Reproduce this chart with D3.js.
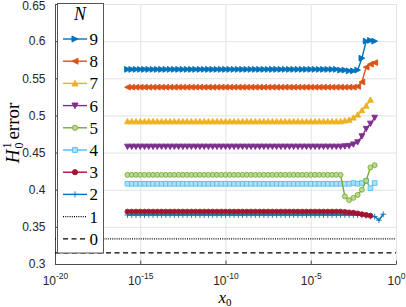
<!DOCTYPE html>
<html><head><meta charset="utf-8">
<script src="https://cdn.jsdelivr.net/npm/d3@7"></script>
<style>body{margin:0;background:#fff}svg{display:block}</style>
</head><body><svg id="c" width="406" height="307"></svg>
<script>
// x0 exponents (x0 = 10^e)
const xExp = [-15.75,-15.5,-15.25,-15,-14.75,-14.5,-14.25,-14,-13.75,-13.5,
-13.25,-13,-12.75,-12.5,-12.25,-12,-11.75,-11.5,-11.25,-11,
-10.75,-10.5,-10.25,-10,-9.75,-9.5,-9.25,-9,-8.75,-8.5,
-8.25,-8,-7.75,-7.5,-7.25,-7,-6.75,-6.5,-6.25,-6,
-5.75,-5.5,-5.25,-5,-4.75,-4.5,-4.25,-4,-3.75,-3.5,
-3.25,-3,-2.75,-2.5,-2.25,-2,-1.75,-1.5,-1.25,-1,-0.75];

const s9 = [0.562,0.562,0.562,0.562,0.562,0.562,0.562,0.562,0.562,0.562,
0.562,0.562,0.562,0.562,0.562,0.562,0.562,0.562,0.562,0.562,
0.562,0.562,0.562,0.562,0.562,0.562,0.562,0.562,0.562,0.562,
0.562,0.562,0.562,0.562,0.562,0.562,0.562,0.562,0.562,0.562,
0.562,0.562,0.562,0.562,0.562,0.562,0.562,0.562,0.562,0.562,
0.561,0.561,0.560,0.560,0.561,0.577,0.600,0.601,0.600,null,null];

const s8 = [0.538,0.538,0.538,0.538,0.538,0.538,0.538,0.538,0.538,0.538,
0.538,0.538,0.538,0.538,0.538,0.538,0.538,0.538,0.538,0.538,
0.538,0.538,0.538,0.538,0.538,0.538,0.538,0.538,0.538,0.538,
0.538,0.538,0.538,0.538,0.538,0.538,0.538,0.538,0.538,0.538,
0.538,0.538,0.538,0.538,0.538,0.538,0.538,0.538,0.538,0.538,
0.538,0.538,0.538,0.538,0.539,0.545,0.565,0.569,0.571,null,null];

const s7 = [0.492,0.492,0.492,0.492,0.492,0.492,0.492,0.492,0.492,0.492,
0.492,0.492,0.492,0.492,0.492,0.492,0.492,0.492,0.492,0.492,
0.492,0.492,0.492,0.492,0.492,0.492,0.492,0.492,0.492,0.492,
0.492,0.492,0.492,0.492,0.492,0.492,0.492,0.492,0.492,0.492,
0.492,0.492,0.492,0.492,0.492,0.492,0.492,0.492,0.492,0.492,
0.492,0.493,0.494,0.497,0.501,0.507,0.513,0.521,null,null,null];

const s6 = [0.458,0.458,0.458,0.458,0.458,0.458,0.458,0.458,0.458,0.458,
0.458,0.458,0.458,0.458,0.458,0.458,0.458,0.458,0.458,0.458,
0.458,0.458,0.458,0.458,0.458,0.458,0.458,0.458,0.458,0.458,
0.458,0.458,0.458,0.458,0.458,0.458,0.458,0.458,0.458,0.458,
0.458,0.458,0.458,0.458,0.458,0.458,0.458,0.458,0.458,0.458,
0.458,0.4585,0.459,0.461,0.464,0.472,0.482,0.489,0.497,null,null];

const s5 = [0.420,0.420,0.420,0.420,0.420,0.420,0.420,0.420,0.420,0.420,
0.420,0.420,0.420,0.420,0.420,0.420,0.420,0.420,0.420,0.420,
0.420,0.420,0.420,0.420,0.420,0.420,0.420,0.420,0.420,0.420,
0.420,0.420,0.420,0.420,0.420,0.420,0.420,0.420,0.420,0.420,
0.420,0.420,0.420,0.420,0.420,0.420,0.420,0.420,0.420,0.420,
0.420,0.391,0.386,0.389,0.393,0.400,0.412,0.430,0.433,null,null];

const s4 = [0.408,0.408,0.408,0.408,0.408,0.408,0.408,0.408,0.408,0.408,
0.408,0.408,0.408,0.408,0.408,0.408,0.408,0.408,0.408,0.408,
0.408,0.408,0.408,0.408,0.408,0.408,0.408,0.408,0.408,0.408,
0.408,0.408,0.408,0.408,0.408,0.408,0.408,0.408,0.408,0.408,
0.408,0.408,0.408,0.408,0.408,0.408,0.408,0.408,0.408,0.408,
0.408,0.408,0.408,0.409,0.408,0.409,0.412,0.402,0.409,null,null];

const s3 = [0.3705,0.3705,0.3705,0.3705,0.3705,0.3705,0.3705,0.3705,0.3705,0.3705,
0.3705,0.3705,0.3705,0.3705,0.3705,0.3705,0.3705,0.3705,0.3705,0.3705,
0.3705,0.3705,0.3705,0.3705,0.3705,0.3705,0.3705,0.3705,0.3705,0.3705,
0.3705,0.3705,0.3705,0.3705,0.3705,0.3705,0.3705,0.3705,0.3705,0.3705,
0.3705,0.3705,0.3705,0.3705,0.3705,0.3705,0.3705,0.3705,0.3705,0.3705,
0.3705,0.370,0.3695,0.369,0.368,0.367,0.366,0.365,null,null,null];

const s2 = [0.366,0.366,0.366,0.366,0.366,0.366,0.366,0.366,0.366,0.366,
0.366,0.366,0.366,0.366,0.366,0.366,0.366,0.366,0.366,0.366,
0.366,0.366,0.366,0.366,0.366,0.366,0.366,0.366,0.366,0.366,
0.366,0.366,0.366,0.366,0.366,0.366,0.366,0.366,0.366,0.366,
0.366,0.366,0.366,0.366,0.366,0.366,0.366,0.366,0.366,0.366,
0.366,0.366,0.366,0.366,0.366,0.3655,0.365,0.364,0.364,0.359,0.367];

// N = 1 and N = 0: constant error levels across the full x range
const flatExp = [-20, 0];
const s1 = [0.3337, 0.3337];
const s0 = [0.315, 0.315];

const legendLabels = ["9","8","7","6","5","4","3","2","1","0"];
const xTickExp = [-20,-15,-10,-5,0];
const yTickVals = [0.3,0.35,0.4,0.45,0.5,0.55,0.6,0.65];
const yTickLabels = ["0.3","0.35","0.4","0.45","0.5","0.55","0.6","0.65"];

const markerSeries = [
  {n:"9", vals:s9, color:"#0072BD", fill:"#0072BD", marker:">"},
  {n:"8", vals:s8, color:"#D95319", fill:"#D95319", marker:"<"},
  {n:"7", vals:s7, color:"#EDB120", fill:"#EDB120", marker:"^"},
  {n:"6", vals:s6, color:"#7E2F8E", fill:"#7E2F8E", marker:"v"},
  {n:"5", vals:s5, color:"#77AC30", fill:"#bcd994", marker:"o"},
  {n:"4", vals:s4, color:"#4DBEEE", fill:"#ace1f7", marker:"s"},
  {n:"3", vals:s3, color:"#A2142F", fill:"#A2142F", marker:"o"},
  {n:"2", vals:s2, color:"#0072BD", fill:"none", marker:"+"}
];
const flatSeries = [
  {n:"1", vals:s1, dash:"1,1.2"},
  {n:"0", vals:s0, dash:"5,3.5"}
];

const svg = d3.select("#c");
const L = 55, R = 396, T = 4, B = 264;
const x = d3.scaleLog().domain([1e-20, 1]).range([L, R]);
const y = d3.scaleLinear().domain([0.3, 0.65]).range([B, T]);
const xTickVals = xTickExp.map(e => Math.pow(10, e));
const sansFont = "'Liberation Sans', Arial, Helvetica, sans-serif";
const serifFont = "'Liberation Serif', 'Times New Roman', serif";

// grid
svg.append("g").attr("transform", `translate(0,${B})`)
  .call(d3.axisBottom(x).tickValues(xTickVals).tickSize(-(B - T)).tickFormat(""))
  .call(g => { g.select(".domain").remove(); g.selectAll("line").attr("stroke", "#e3e3e3"); });
svg.append("g").attr("transform", `translate(${L},0)`)
  .call(d3.axisLeft(y).tickValues(yTickVals).tickSize(-(R - L)).tickFormat(""))
  .call(g => { g.select(".domain").remove(); g.selectAll("line").attr("stroke", "#e3e3e3"); });

// axes
const xAx = svg.append("g").attr("transform", `translate(0,${B})`)
  .call(d3.axisBottom(x).tickValues(xTickVals).tickSizeInner(-3.5).tickSizeOuter(0).tickFormat(""));
xAx.select(".domain").attr("stroke", "#4d4d4d");
xAx.selectAll(".tick line").attr("stroke", "#4d4d4d");
xAx.selectAll(".tick").each(function(d, i) {
  const t = d3.select(this).append("text").attr("fill", "#262626")
    .attr("font-family", sansFont).attr("font-size", 12).attr("text-anchor", "middle")
    .attr("y", 20.5);
  t.append("tspan").text("10");
  t.append("tspan").attr("font-size", 8.5).attr("dy", -6).text(xTickExp[i]);
});
const yAx = svg.append("g").attr("transform", `translate(${L},0)`)
  .call(d3.axisLeft(y).tickValues(yTickVals).tickSizeInner(-3.5).tickSizeOuter(0)
    .tickFormat((d, i) => yTickLabels[i]).tickPadding(9));
yAx.select(".domain").attr("stroke", "#4d4d4d");
yAx.selectAll(".tick line").attr("stroke", "#4d4d4d");
yAx.selectAll(".tick text").attr("fill", "#262626").attr("font-family", sansFont).attr("font-size", 12)
  .attr("x", -9.5).attr("dy", (d, i) => i === yTickVals.length - 1 ? "0.42em" : "0.32em");

// flat lines N=1, N=0
const line = d3.line().defined(d => d[1] != null).x(d => x(Math.pow(10, d[0]))).y(d => y(d[1]));
flatSeries.forEach(s => {
  svg.append("path").attr("d", line(flatExp.map((e, i) => [e, s.vals[i]])))
    .attr("fill", "none").attr("stroke", "#000").attr("stroke-width", 1.2)
    .attr("stroke-dasharray", s.dash);
});

function markerPath(m, k) {
  const s = 2.9 * (k || 1);
  switch (m) {
    case ">": return `M${-s},${-s}L${s},0L${-s},${s}Z`;
    case "<": return `M${s},${-s}L${-s},0L${s},${s}Z`;
    case "^": return `M0,${-s}L${s},${s*0.85}L${-s},${s*0.85}Z`;
    case "v": return `M0,${s}L${s},${-s*0.85}L${-s},${-s*0.85}Z`;
    case "s": { const h = s * 0.8; return `M${-h},${-h}H${h}V${h}H${-h}Z`; }
    case "+": return `M${-s},0H${s}M0,${-s}V${s}`;
    case "o": { const r = s * 0.85; return `M${r},0A${r},${r} 0 1,1 ${-r},0A${r},${r} 0 1,1 ${r},0Z`; }
  }
}

// marker series drawn from N=2 up to N=9
markerSeries.slice().reverse().forEach(s => {
  const pts = xExp.map((e, i) => [e, s.vals[i]]);
  svg.append("path").attr("d", line(pts)).attr("fill", "none")
    .attr("stroke", s.color).attr("stroke-width", 1.4);
  svg.append("g").selectAll("path").data(pts.filter(p => p[1] != null)).join("path")
    .attr("transform", p => `translate(${x(Math.pow(10, p[0]))},${y(p[1])})`)
    .attr("d", markerPath(s.marker))
    .attr("fill", s.fill).attr("stroke", s.color).attr("stroke-width", 0.9);
});

// legend
const lg = svg.append("g");
lg.append("rect").attr("x", 57.5).attr("y", 3.5).attr("width", 46).attr("height", 249.5)
  .attr("fill", "#fff").attr("stroke", "#555").attr("stroke-width", 1);
lg.append("text").attr("x", 80).attr("y", 20).attr("text-anchor", "middle")
  .attr("font-family", serifFont).attr("font-style", "italic").attr("font-size", 18)
  .attr("fill", "#000").text("N");
const allEntries = markerSeries.concat(flatSeries);
legendLabels.forEach((lab, i) => {
  const yy = 39 + i * 22.2;
  const s = allEntries.find(e => e.n === lab);
  if (s.marker) {
    lg.append("line").attr("x1", 63).attr("x2", 87).attr("y1", yy).attr("y2", yy)
      .attr("stroke", s.color).attr("stroke-width", 1.4);
    lg.append("path").attr("transform", `translate(75,${yy})`).attr("d", markerPath(s.marker, 1.05))
      .attr("fill", s.fill).attr("stroke", s.color).attr("stroke-width", 0.9);
  } else {
    lg.append("line").attr("x1", 63).attr("x2", 87).attr("y1", yy).attr("y2", yy)
      .attr("stroke", "#000").attr("stroke-width", 1.2).attr("stroke-dasharray", s.dash);
  }
  lg.append("text").attr("x", 89.5).attr("y", yy + 6).attr("font-family", serifFont)
    .attr("font-size", 17).attr("fill", "#000").text(lab);
});

// axis labels
const yl = svg.append("text").attr("transform", "translate(19,133) rotate(-90)")
  .attr("text-anchor", "middle").attr("font-family", serifFont).attr("font-size", 19).attr("fill", "#000");
yl.append("tspan").attr("font-style", "italic").text("H");
yl.append("tspan").attr("font-size", 12).attr("dy", -8).attr("dx", 1).text("1");
yl.append("tspan").attr("font-size", 12).attr("dy", 12).attr("dx", -6).text("0");
yl.append("tspan").attr("dy", -4).attr("dx", 3).text("error");

const xl = svg.append("text").attr("x", 225).attr("y", 302.5).attr("text-anchor", "middle")
  .attr("font-family", serifFont).attr("font-size", 17).attr("fill", "#000");
xl.append("tspan").attr("font-style", "italic").text("x");
xl.append("tspan").attr("font-size", 11).attr("dy", 3).text("0");
</script>
</body></html>
